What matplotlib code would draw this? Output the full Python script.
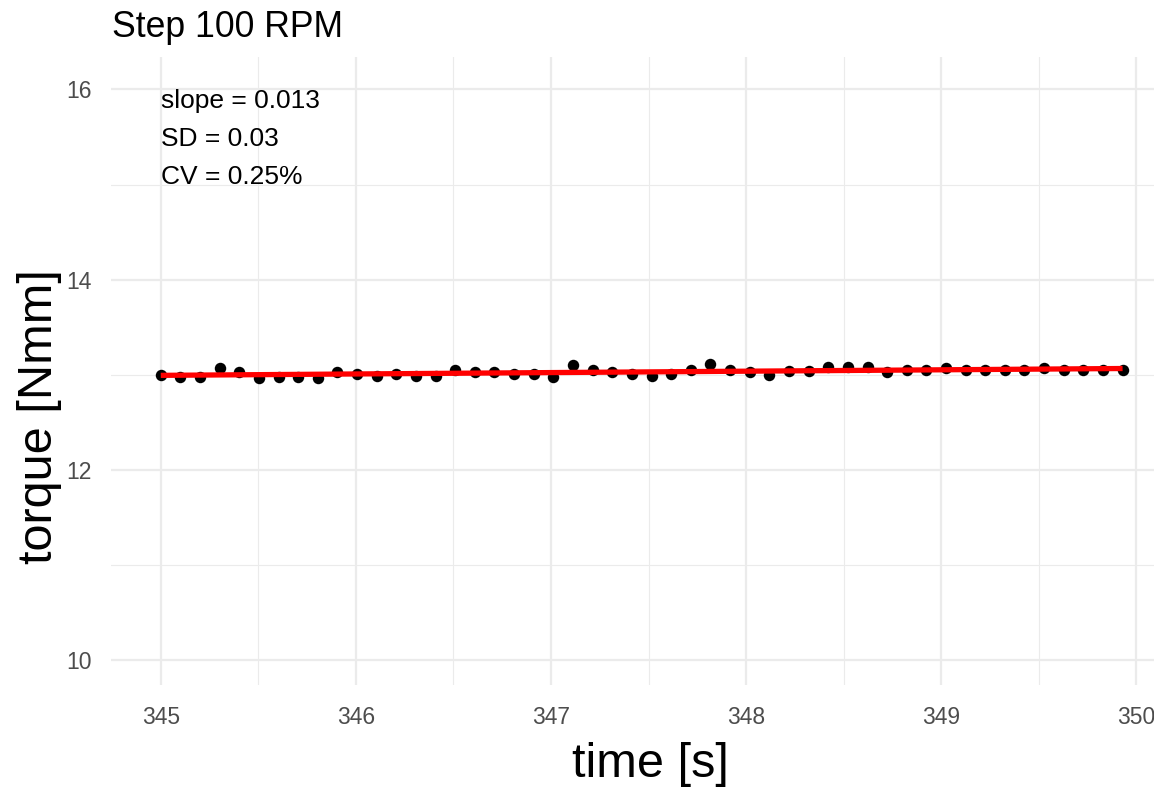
import numpy as np
import matplotlib
matplotlib.use("Agg")
import matplotlib.pyplot as plt
from matplotlib.ticker import MultipleLocator

plt.rcParams['font.family'] = ['Liberation Sans', 'DejaVu Sans']

time_s = [345.000, 345.101, 345.201, 345.302, 345.402, 345.503, 345.604, 345.704, 345.805, 345.905,
          346.006, 346.107, 346.207, 346.308, 346.408, 346.509, 346.610, 346.710, 346.811, 346.911,
          347.012, 347.113, 347.213, 347.314, 347.414, 347.515, 347.616, 347.716, 347.817, 347.917,
          348.018, 348.119, 348.219, 348.320, 348.420, 348.521, 348.622, 348.722, 348.823, 348.923,
          349.024, 349.125, 349.225, 349.326, 349.426, 349.527, 349.628, 349.728, 349.829, 349.929]
torque = [13.00, 12.98, 12.98, 13.07, 13.03, 12.97, 12.98, 12.98, 12.97, 13.03,
          13.01, 12.99, 13.01, 12.99, 12.99, 13.05, 13.03, 13.03, 13.01, 13.01,
          12.98, 13.10, 13.05, 13.03, 13.01, 12.99, 13.01, 13.05, 13.11, 13.05,
          13.03, 13.00, 13.04, 13.04, 13.08, 13.08, 13.08, 13.03, 13.05, 13.05,
          13.07, 13.05, 13.05, 13.05, 13.05, 13.07, 13.05, 13.05, 13.05, 13.05]
annotations = ["slope = 0.013", "SD = 0.03", "CV = 0.25%"]
annot_y = [16.0, 15.6, 15.2]
x_ticks = [345, 346, 347, 348, 349, 350]
y_ticks = [10, 12, 14, 16]

fig = plt.figure(figsize=(11.54, 7.87), dpi=100)
ax = fig.add_axes([111/1154, 1 - 685/787, 1043/1154, (685 - 57)/787])

t = np.array(time_s)
q = np.array(torque)
coef = np.polyfit(t, q, 1)
fit = np.polyval(coef, t)

ax.scatter(t, q, s=68, color='black', zorder=3, linewidths=0)
ax.plot(t, fit, color='#FF0000', lw=3.8, zorder=4, solid_capstyle='butt')

for txt, yy in zip(annotations, annot_y):
    ax.text(345.0, yy, txt, ha='left', va='top', fontsize=19, color='black')

ax.set_xlim(344.745, 350.09)
ax.set_ylim(9.74, 16.34)
ax.set_xticks(x_ticks)
ax.set_yticks(y_ticks)
ax.xaxis.set_minor_locator(MultipleLocator(0.5))
ax.yaxis.set_minor_locator(MultipleLocator(1))
ax.grid(which='major', color='#EBEBEB', lw=1.6)
ax.grid(which='minor', color='#EBEBEB', lw=0.8)
ax.set_axisbelow(True)
for sp in ax.spines.values():
    sp.set_visible(False)
ax.tick_params(which='both', length=0)
ax.tick_params(axis='x', labelsize=16.5, colors='#4D4D4D', pad=15)
ax.tick_params(axis='y', labelsize=16.5, colors='#4D4D4D', pad=14)

fig.text(650/1154, 1 - 777/787, 'time [s]', fontsize=35, ha='center', va='baseline')
fig.text(52/1154, 1 - 417/787, 'torque [Nmm]', fontsize=35, ha='center', va='baseline',
         rotation=90, rotation_mode='anchor')
fig.text(112/1154, 1 - 37/787, 'Step 100 RPM', fontsize=25.7, ha='left', va='baseline')

fig.savefig('out.png', dpi=100)
